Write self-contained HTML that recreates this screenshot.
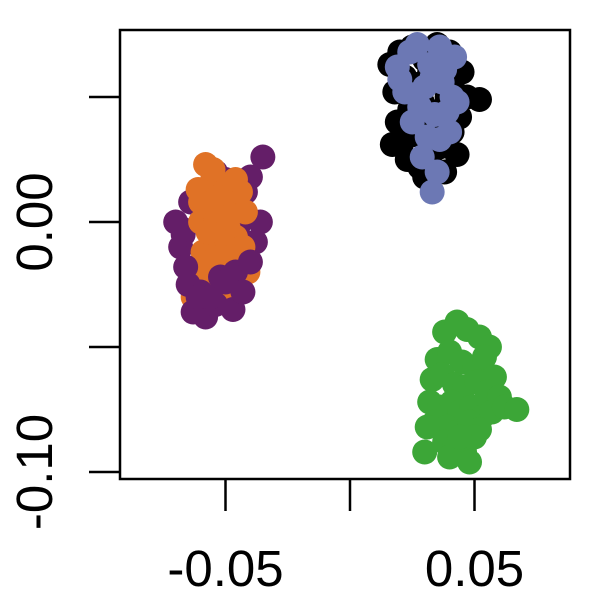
<!DOCTYPE html>
<html><head><meta charset="utf-8"><style>
html,body{margin:0;padding:0;background:#fff;}
svg text{font-family:"Liberation Sans",Arial,sans-serif;}
</style></head><body>
<svg id="chart" width="600" height="600" viewBox="0 0 600 600">
<rect x="120" y="30" width="450" height="449" fill="none" stroke="#000" stroke-width="2.5"/>
<g id="axes"></g>
<g id="points"></g>
</svg>
<script>
const xTicks=[-0.05,0,0.05];
const xTickLabels=["-0.05","","0.05"];
const yTicks=[0.05,0,-0.05,-0.10];
const yTickLabels=["","0.00","","-0.10"];
const purpleX=[-0.063,-0.058,-0.054,-0.046,-0.035,-0.050,-0.070,-0.068,-0.066,-0.060,-0.056,-0.052,-0.048,-0.045,-0.042,-0.038,-0.036,-0.065,-0.067,-0.059,-0.055,-0.051,-0.047,-0.043,-0.040,-0.053,-0.057,-0.049,-0.064,-0.061,-0.040,-0.050,-0.045,-0.054,-0.067];
const purpleY=[-0.036,-0.038,-0.033,-0.020,0.026,0.017,0.000,-0.010,-0.018,-0.028,-0.030,-0.022,-0.012,0.005,0.012,-0.008,0.000,-0.025,-0.005,0.005,0.015,0.010,-0.035,-0.028,-0.016,-0.006,-0.014,0.002,0.008,-0.030,0.018,-0.024,-0.002,0.020,-0.003];
const orangeX=[-0.061,-0.058,-0.055,-0.050,-0.047,-0.044,-0.042,-0.060,-0.057,-0.053,-0.049,-0.046,-0.043,-0.059,-0.056,-0.052,-0.048,-0.045,-0.062,-0.054,-0.051,-0.047,-0.058,-0.055,-0.050,-0.044,-0.060,-0.053,-0.049,-0.057,-0.046,-0.052,-0.063,-0.041,-0.055];
const orangeY=[0.013,0.023,0.018,0.014,0.006,0.012,0.004,0.000,0.006,0.004,-0.002,-0.006,-0.010,-0.012,-0.016,-0.008,-0.014,-0.020,-0.020,-0.024,-0.028,-0.026,-0.030,-0.032,-0.018,-0.028,0.008,0.010,0.002,-0.004,0.017,-0.014,-0.030,-0.020,0.021];
const blackX=[0.016,0.020,0.025,0.030,0.035,0.040,0.045,0.052,0.018,0.022,0.027,0.032,0.037,0.042,0.047,0.019,0.024,0.029,0.034,0.039,0.044,0.021,0.026,0.031,0.036,0.041,0.023,0.028,0.033,0.038,0.017,0.043,0.030,0.035,0.025];
const blackY=[0.063,0.068,0.070,0.065,0.071,0.068,0.060,0.049,0.052,0.058,0.055,0.060,0.056,0.058,0.050,0.040,0.045,0.048,0.044,0.050,0.042,0.032,0.035,0.038,0.030,0.036,0.025,0.022,0.028,0.020,0.031,0.027,0.018,0.038,0.053];
const blueX=[0.019,0.024,0.027,0.032,0.036,0.038,0.042,0.033,0.022,0.030,0.037,0.041,0.028,0.034,0.039,0.031,0.036,0.033,0.025,0.040,0.020,0.029,0.035,0.038,0.043];
const blueY=[0.062,0.068,0.071,0.063,0.070,0.061,0.066,0.058,0.052,0.054,0.056,0.050,0.046,0.043,0.044,0.034,0.033,0.012,0.040,0.036,0.057,0.026,0.020,0.062,0.048];
const greenX=[0.038,0.043,0.047,0.052,0.056,0.035,0.040,0.045,0.050,0.054,0.058,0.033,0.037,0.042,0.046,0.051,0.055,0.060,0.032,0.036,0.041,0.044,0.049,0.053,0.057,0.062,0.067,0.034,0.039,0.043,0.048,0.052,0.031,0.038,0.042,0.046,0.050,0.040,0.044,0.048,0.030];
const greenY=[-0.044,-0.040,-0.043,-0.046,-0.050,-0.055,-0.052,-0.056,-0.058,-0.054,-0.062,-0.063,-0.061,-0.065,-0.066,-0.064,-0.068,-0.070,-0.072,-0.074,-0.072,-0.076,-0.074,-0.078,-0.076,-0.074,-0.075,-0.080,-0.082,-0.084,-0.080,-0.083,-0.082,-0.088,-0.090,-0.092,-0.086,-0.094,-0.086,-0.096,-0.092];

const NS="http://www.w3.org/2000/svg";
function sx(v){return 350+v*2490;}
function sy(v){return 222-v*2500;}
const axes=document.getElementById('axes');
xTicks.forEach((t,i)=>{
  const l=document.createElementNS(NS,'line');
  l.setAttribute('x1',sx(t));l.setAttribute('x2',sx(t));l.setAttribute('y1',479);l.setAttribute('y2',511);
  l.setAttribute('stroke','#000');l.setAttribute('stroke-width','2.5');
  
  
  axes.appendChild(l);
  if(xTickLabels[i]){
    const tx=document.createElementNS(NS,'text');
    tx.setAttribute('x',sx(t));tx.setAttribute('y',586);tx.setAttribute('text-anchor','middle');tx.setAttribute('font-size','51');
    tx.textContent=xTickLabels[i];
    
    
    axes.appendChild(tx);
  }
});
yTicks.forEach((t,i)=>{
  const l=document.createElementNS(NS,'line');
  l.setAttribute('x1',89);l.setAttribute('x2',120);l.setAttribute('y1',sy(t));l.setAttribute('y2',sy(t));
  l.setAttribute('stroke','#000');l.setAttribute('stroke-width','2.5');
  
  
  axes.appendChild(l);
  if(yTickLabels[i]){
    const tx=document.createElementNS(NS,'text');
    tx.setAttribute('x',0);tx.setAttribute('y',0);tx.setAttribute('text-anchor','middle');tx.setAttribute('font-size','51');
    tx.setAttribute('transform','translate(52,'+sy(t)+') rotate(-90)');
    tx.textContent=yTickLabels[i];
    
    
    axes.appendChild(tx);
  }
});
const pts=document.getElementById('points');
function draw(xs,ys,color,name,filter){
  xs.forEach((x,i)=>{
    if(filter && !filter(ys[i])) return;
    const c=document.createElementNS(NS,'circle');
    c.setAttribute('cx',sx(x));c.setAttribute('cy',sy(ys[i]));c.setAttribute('r',12.5);c.setAttribute('fill',color);
    
    
    pts.appendChild(c);
  });
}
draw(purpleX,purpleY,'#641e68','point-purple',y=>y>=-0.015);
draw(orangeX,orangeY,'#e07226','point-orange');
draw(purpleX,purpleY,'#641e68','point-purple',y=>y<-0.015);
draw(blackX,blackY,'#000000','point-black');
draw(blueX,blueY,'#6c78b4','point-blue');
draw(greenX,greenY,'#3ca637','point-green');
</script>
</body></html>
